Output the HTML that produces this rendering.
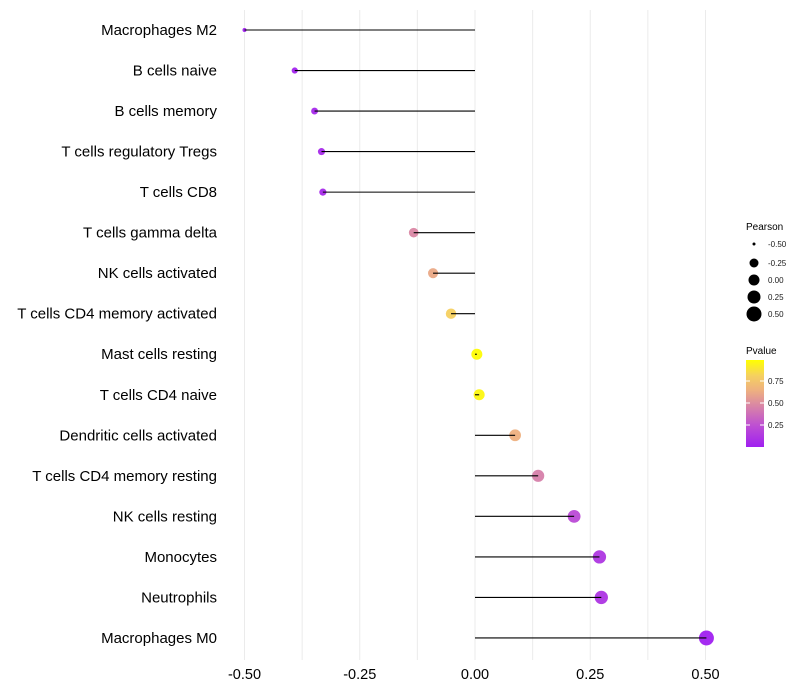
<!DOCTYPE html>
<html><head><meta charset="utf-8"><style>
body{margin:0;background:#fff;font-family:"Liberation Sans",sans-serif}
svg{display:block}
</style></head><body>
<svg id="chart" width="800" height="700"></svg>
<script>
const categories=["Macrophages M2","B cells naive","B cells memory","T cells regulatory  Tregs","T cells CD8","T cells gamma delta","NK cells activated","T cells CD4 memory activated","Mast cells resting","T cells CD4 naive","Dendritic cells activated","T cells CD4 memory resting","NK cells resting","Monocytes","Neutrophils","Macrophages M0"];
const pearson=[-0.50,-0.391,-0.348,-0.333,-0.330,-0.133,-0.091,-0.052,0.004,0.009,0.087,0.137,0.215,0.270,0.274,0.502];
const pvalue=[0.0,0.02,0.04,0.05,0.05,0.48,0.62,0.82,0.99,0.97,0.65,0.45,0.22,0.12,0.11,0.0];
const xTicks=[-0.5,-0.25,0,0.25,0.5];
const xTickLabels=["-0.50","-0.25","0.00","0.25","0.50"];
const sizeLegend=[-0.5,-0.25,0,0.25,0.5];
const sizeLegendLabels=["-0.50","-0.25","0.00","0.25","0.50"];
const pLegend=[0.25,0.5,0.75];

const NS="http://www.w3.org/2000/svg";
const svg=document.getElementById('chart');
function el(t,a,p){const e=document.createElementNS(NS,t);for(const k in a)e.setAttribute(k,a[k]);(p||svg).appendChild(e);return e;}
const x=v=>475+v*461;
const y=i=>30+i*40.53;
const rad=v=>Math.max(1.5,Math.sqrt(4+(v+0.5)*52));
const stops=[[0,[160,32,240]],[0.25,[190,80,210]],[0.5,[220,140,160]],[0.65,[238,176,128]],[0.82,[245,208,96]],[1,[255,255,0]]];
function col(p){for(let i=1;i<stops.length;i++){if(p<=stops[i][0]){const a=stops[i-1],b=stops[i];const t=(p-a[0])/(b[0]-a[0]);return 'rgb('+a[1].map((c,j)=>Math.round(c+(b[1][j]-c)*t)).join(',')+')';}}return 'rgb(255,255,0)';}

for(let v=-0.5;v<=0.5001;v+=0.125){
  const g=el('line',{x1:x(v),x2:x(v),y1:10,y2:660,stroke:'#ebebeb','stroke-width':1});
  
  
}
categories.forEach((c,i)=>{
  const t=el('text',{x:217,y:y(i)+5,'text-anchor':'end','font-size':15,fill:'#000'});
  t.textContent=c;
  
  
  const d=el('circle',{cx:x(pearson[i]),cy:y(i),r:rad(pearson[i]),fill:col(pvalue[i]),'fill-opacity':0.95});
  
  
  const l=el('line',{x1:x(0),x2:x(pearson[i]),y1:y(i),y2:y(i),stroke:'#000','stroke-width':1.1});
  
  
});
xTicks.forEach((v,i)=>{
  const t=el('text',{x:x(v),y:679,'text-anchor':'middle','font-size':14.5,fill:'#000'});
  t.textContent=xTickLabels[i];
  
  
});
const st=el('text',{x:746,y:230,'font-size':10,fill:'#000'});st.textContent='Pearson';


const ly=[244,263,280,297,314];
const lr=[1.5,4.5,5.5,6.5,7.5];
sizeLegend.forEach((v,i)=>{
  const c=el('circle',{cx:754,cy:ly[i],r:lr[i],fill:'#000'});
  
  
  const t=el('text',{x:768,y:ly[i]+3,'font-size':8,fill:'#1a1a1a'});t.textContent=sizeLegendLabels[i];
  
  
});
const pt=el('text',{x:746,y:354,'font-size':10,fill:'#000'});pt.textContent='Pvalue';


const defs=el('defs',{});
const lg=el('linearGradient',{id:'pg',x1:0,y1:1,x2:0,y2:0},defs);
stops.forEach(s=>el('stop',{offset:s[0],'stop-color':col(s[0])},lg));
const bar=el('rect',{x:746,y:360,width:18,height:87,fill:'url(#pg)'});


pLegend.forEach(p=>{
  const yy=447-p*88;
  el('line',{x1:746,x2:750,y1:yy,y2:yy,stroke:'#fff'});
  el('line',{x1:760,x2:764,y1:yy,y2:yy,stroke:'#fff'});
  const t=el('text',{x:768,y:yy+3,'font-size':8,fill:'#1a1a1a'});t.textContent=p.toFixed(2);
  
  
});
</script>
</body></html>
